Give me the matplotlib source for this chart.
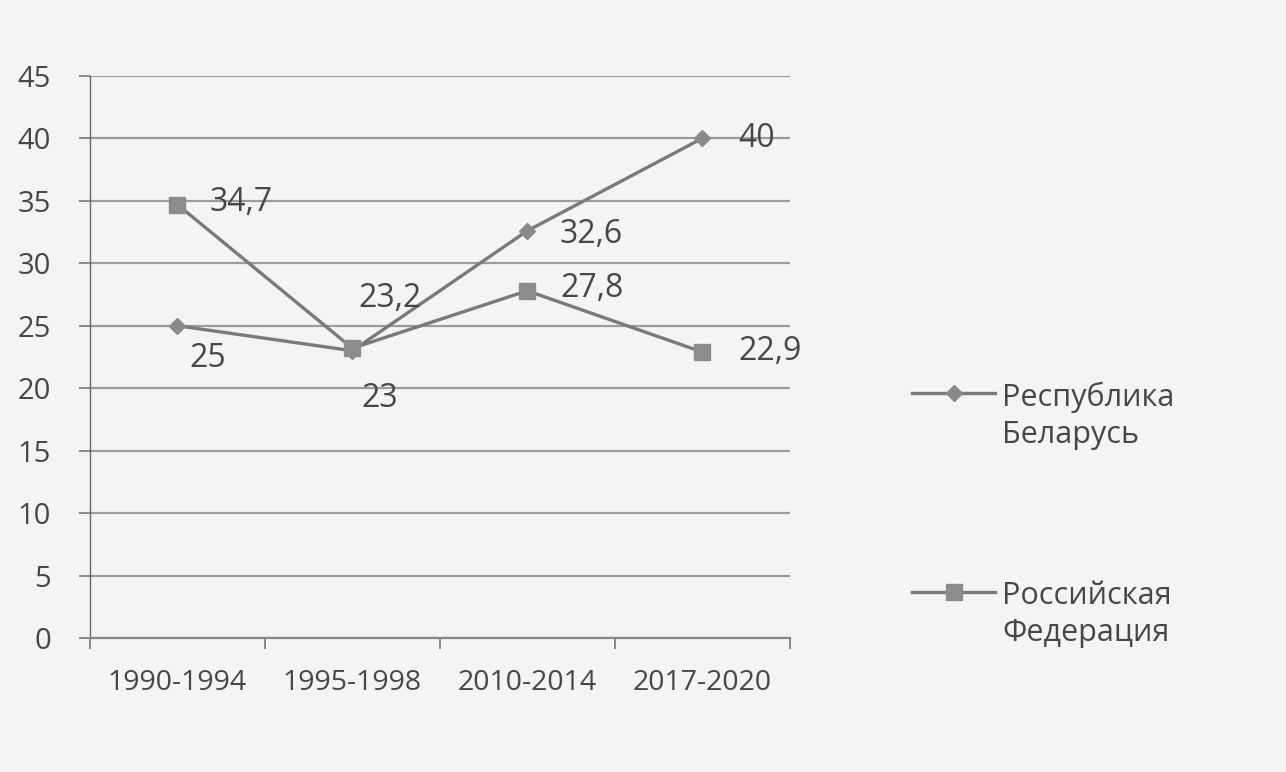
import numpy as np
import matplotlib.pyplot as plt
from matplotlib.ticker import FixedLocator

plt.rcParams['font.family'] = ['Open Sans', 'DejaVu Sans']

periods = ["1990-1994", "1995-1998", "2010-2014", "2017-2020"]
belarus = [25, 23, 32.6, 40]
russia = [34.7, 23.2, 27.8, 22.9]
belarus_labels = ["25", "23", "32,6", "40"]
russia_labels = ["34,7", "23,2", "27,8", "22,9"]

BG = "#f4f4f2"
LINE = "#7a7a7a"
TXT = "#474747"

fig = plt.figure(figsize=(12.86, 7.72), dpi=100, facecolor=BG)
ax = fig.add_axes([0.070, 0.1736, 0.544, 0.728])
ax.set_facecolor(BG)

x = np.arange(len(periods))

l1, = ax.plot(x, belarus, color=LINE, lw=2.4, marker="D", markersize=8,
              markerfacecolor="#8a8a8a", markeredgecolor="#8a8a8a",
              label="Республика\nБеларусь", zorder=3)
l2, = ax.plot(x, russia, color=LINE, lw=2.4, marker="s", markersize=11,
              markerfacecolor="#8c8c8c", markeredgecolor="#8c8c8c",
              label="Российская\nФедерация", zorder=3)

# data labels (offsets in pixels)
b_off = [(30, -33), (27, -48), (32, -4), (36, 0)]
r_off = [(32, 2), (38, 50), (33, 2), (36, 0)]
for i in range(len(periods)):
    dx, dy = b_off[i]
    ha = "center" if i < 2 else "left"
    ax.annotate(belarus_labels[i], (x[i], belarus[i]), xytext=(dx, dy),
                textcoords="offset pixels", ha=ha, va="center",
                fontsize=23, color=TXT)
    dx, dy = r_off[i]
    ha = "center" if i == 1 else "left"
    ax.annotate(russia_labels[i], (x[i], russia[i]), xytext=(dx, dy),
                textcoords="offset pixels", ha=ha, va="center",
                fontsize=23, color=TXT)

ax.set_xlim(-0.5, len(periods) - 0.5)
ax.set_ylim(0, 45)
ax.set_yticks(np.arange(0, 46, 5))
ax.yaxis.grid(True, color="#9c9c9c", lw=1.6)
ax.set_axisbelow(True)

ax.set_xticks(x)
ax.set_xticklabels(periods)
ax.xaxis.set_minor_locator(FixedLocator(np.arange(-0.5, len(periods), 1)))
ax.tick_params(axis="x", which="major", length=0, pad=22, labelsize=20.5, labelcolor=TXT)
ax.tick_params(axis="x", which="minor", length=8, width=1.2, color="#777777")
ax.tick_params(axis="y", length=8, width=1.2, color="#777777", pad=20,
               labelsize=21, labelcolor=TXT)

for s in ["top", "right"]:
    ax.spines[s].set_visible(False)
ax.spines["left"].set_color("#666666")
ax.spines["left"].set_linewidth(1.0)
ax.spines["bottom"].set_color("#888888")
ax.spines["bottom"].set_linewidth(1.6)

leg = fig.legend(handles=[l1, l2], loc="upper left", bbox_to_anchor=(0.688, 0.541),
                 frameon=False, fontsize=22, labelcolor=TXT, handlelength=2.7,
                 handletextpad=0.25, labelspacing=4.3)
for t in leg.get_texts():
    t.set_linespacing(1.3)
# put the marker beside the first line of each label
for column in leg._legend_handle_box.get_children():
    for row in column.get_children():
        row.align = "top"

fig.savefig("out.png", dpi=100, facecolor=BG)
